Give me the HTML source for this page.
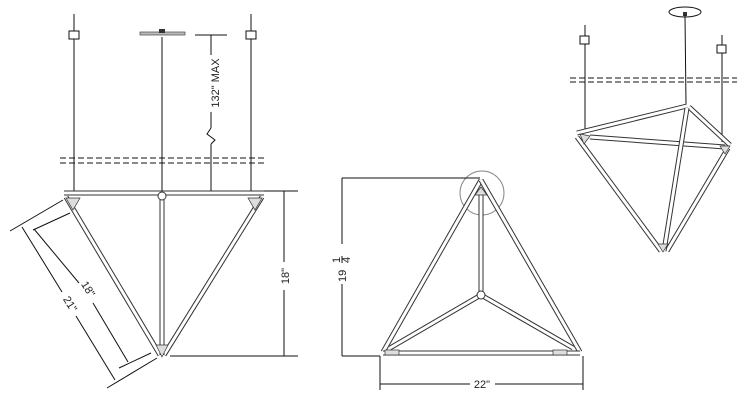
<!DOCTYPE html>
<html><head><meta charset="utf-8"><style>
html,body{margin:0;padding:0;background:#fff;width:750px;height:420px;overflow:hidden}
svg{display:block}
text{font-family:"Liberation Sans",sans-serif;font-size:11px;fill:#222}
.t1{stroke:#333;stroke-width:5;stroke-linecap:butt}
.t2{stroke:#fff;stroke-width:3}
.c{stroke:#111;stroke-width:1;fill:none}
.d{stroke:#111;stroke-width:1;fill:none}
.dash{stroke:#111;stroke-width:1;stroke-dasharray:6,3}
</style></head><body>
<svg width="750" height="420" viewBox="0 0 750 420" xmlns="http://www.w3.org/2000/svg">
<g>
<line class="c" x1="74" y1="14" x2="74" y2="192" stroke-width="1.3"/>
<line class="c" x1="162" y1="37" x2="162" y2="192" stroke-width="1.3"/>
<line class="c" x1="251" y1="14" x2="251" y2="192" stroke-width="1.3"/>
<rect x="69" y="31" width="10" height="8" fill="#fff" stroke="#111"/>
<rect x="246" y="31" width="10" height="8" fill="#fff" stroke="#111"/>
<rect x="140" y="32" width="45" height="3" fill="#bbb" stroke="#444" stroke-width="0.7"/>
<rect x="159" y="29" width="6" height="4" fill="#333"/>
<line class="dash" x1="60" y1="158" x2="267" y2="158"/>
<line class="dash" x1="60" y1="163" x2="267" y2="163"/>
<line class="d" x1="195" y1="35" x2="227" y2="35"/>
<line class="d" x1="211" y1="35" x2="211" y2="55"/>
<line class="d" x1="211" y1="112" x2="211" y2="128"/>
<polyline class="d" points="211,128 207,134 215,140 211,144"/>
<line class="d" x1="211" y1="144" x2="211" y2="192"/>
<text transform="translate(219,83) rotate(-90)" text-anchor="middle">132" MAX</text>
<g>
<line class="t1" x1="64" y1="193" x2="264" y2="193" stroke-width="7"/>
<line class="t2" x1="64" y1="193" x2="264" y2="193" stroke-width="5"/>
<line class="t1" x1="66" y1="197" x2="160" y2="355"/>
<line class="t2" x1="66" y1="197" x2="160" y2="355"/>
<line class="t1" x1="262" y1="197" x2="164" y2="355"/>
<line class="t2" x1="262" y1="197" x2="164" y2="355"/>
<line class="t1" x1="162" y1="196" x2="162" y2="355" stroke-width="6"/>
<line class="t2" x1="162" y1="196" x2="162" y2="355" stroke-width="3"/>
<circle cx="162" cy="196" r="4" fill="#fff" stroke="#333"/>
<path d="M66,198 L80,198 L73,210 Z" fill="#ddd" stroke="#333" stroke-width="0.7"/>
<path d="M248,198 L262,198 L255,210 Z" fill="#ddd" stroke="#333" stroke-width="0.7"/>
<path d="M156,345 L168,345 L162,357 Z" fill="#ddd" stroke="#333" stroke-width="0.7"/>
</g>
<line class="d" x1="264" y1="191" x2="298" y2="191"/>
<line class="d" x1="170" y1="356" x2="298" y2="356"/>
<line class="d" x1="284" y1="191" x2="284" y2="262"/>
<line class="d" x1="284" y1="290" x2="284" y2="356"/>
<text transform="translate(289,276) rotate(-90)" text-anchor="middle">18"</text>
<line class="d" x1="10" y1="231" x2="63" y2="200"/>
<line class="d" x1="107" y1="388" x2="157" y2="358"/>
<line class="d" x1="33" y1="230" x2="70" y2="213"/>
<line class="d" x1="119" y1="368" x2="151" y2="353"/>
<line class="d" x1="22" y1="227" x2="62" y2="292"/>
<line class="d" x1="76" y1="316" x2="115" y2="380"/>
<line class="d" x1="34" y1="229" x2="79" y2="283"/>
<line class="d" x1="93" y1="303" x2="128" y2="362"/>
<text transform="translate(85,291) rotate(58)" text-anchor="middle">18"</text>
<text transform="translate(67,306) rotate(58)" text-anchor="middle">21"</text>
</g>

<g>
<circle cx="482" cy="193" r="22" fill="none" stroke="#888" stroke-width="1"/>
<line class="t1" x1="481" y1="180" x2="383" y2="352"/><line class="t2" x1="481" y1="180" x2="383" y2="352"/>
<line class="t1" x1="481" y1="180" x2="580" y2="352"/><line class="t2" x1="481" y1="180" x2="580" y2="352"/>
<line class="t1" x1="383" y1="353" x2="580" y2="353"/><line class="t2" x1="383" y1="353" x2="580" y2="353"/>
<line class="t1" x1="481" y1="193" x2="481" y2="295"/><line class="t2" x1="481" y1="193" x2="481" y2="295"/>
<line class="t1" x1="481" y1="295" x2="390" y2="348"/><line class="t2" x1="481" y1="295" x2="390" y2="348"/>
<line class="t1" x1="481" y1="295" x2="573" y2="348"/><line class="t2" x1="481" y1="295" x2="573" y2="348"/>
<circle cx="481" cy="295" r="4" fill="#fff" stroke="#333"/>
<path d="M475,195 L487,195 L481,187 Z" fill="#ddd" stroke="#333" stroke-width="0.7"/>
<rect x="385" y="350" width="14" height="5" fill="#ddd" stroke="#333" stroke-width="0.7"/>
<rect x="553" y="350" width="14" height="5" fill="#ddd" stroke="#333" stroke-width="0.7"/>
<line class="d" x1="342" y1="178" x2="480" y2="178"/>
<line class="d" x1="342" y1="356" x2="380" y2="356"/>
<line class="d" x1="342" y1="178" x2="342" y2="244"/>
<line class="d" x1="342" y1="284" x2="342" y2="356"/>
<text transform="translate(346,282) rotate(-90)">19</text>
<text transform="translate(340,263) rotate(-90)" font-size="9">1</text>
<line x1="342" y1="263" x2="342" y2="256" stroke="#111"/>
<text transform="translate(350,263) rotate(-90)" font-size="9">4</text>
<line class="d" x1="380" y1="356" x2="380" y2="390"/>
<line class="d" x1="583" y1="356" x2="583" y2="390"/>
<line class="d" x1="380" y1="384" x2="470" y2="384"/>
<line class="d" x1="495" y1="384" x2="583" y2="384"/>
<text x="482" y="388" text-anchor="middle">22"</text>
</g>

<g>
<ellipse cx="685" cy="12" rx="16" ry="5" fill="none" stroke="#111"/>
<rect x="683" y="12" width="4" height="4" fill="#333"/>
<line class="c" x1="685" y1="15" x2="686" y2="104"/>
<line class="c" x1="585" y1="25" x2="585" y2="130" stroke-width="1.3"/>
<line class="c" x1="722" y1="35" x2="722" y2="142"/>
<rect x="580" y="36" width="9" height="8" fill="#fff" stroke="#111"/>
<rect x="717" y="45" width="9" height="8" fill="#fff" stroke="#111"/>
<line class="dash" x1="570" y1="78" x2="737" y2="78"/>
<line class="dash" x1="570" y1="82" x2="737" y2="82"/>
<line class="t1" x1="590" y1="137" x2="725" y2="147"/><line class="t2" x1="590" y1="137" x2="725" y2="147"/>
<line class="t1" x1="577" y1="133" x2="687" y2="106"/><line class="t2" x1="577" y1="133" x2="687" y2="106"/>
<line class="t1" x1="689" y1="107" x2="730" y2="145"/><line class="t2" x1="689" y1="107" x2="730" y2="145"/>
<line class="t1" x1="577" y1="137" x2="661" y2="251"/><line class="t2" x1="577" y1="137" x2="661" y2="251"/>
<line class="t1" x1="728" y1="148" x2="667" y2="251"/><line class="t2" x1="728" y1="148" x2="667" y2="251"/>
<line class="t1" x1="687" y1="108" x2="664" y2="251"/><line class="t2" x1="687" y1="108" x2="664" y2="251"/>
<path d="M580,134 L590,136 L584,144 Z" fill="#ddd" stroke="#333" stroke-width="0.7"/>
<path d="M720,146 L730,146 L725,154 Z" fill="#ddd" stroke="#333" stroke-width="0.7"/>
<path d="M658,244 L668,244 L663,252 Z" fill="#ddd" stroke="#333" stroke-width="0.7"/>
</g>
</svg>
</body></html>
